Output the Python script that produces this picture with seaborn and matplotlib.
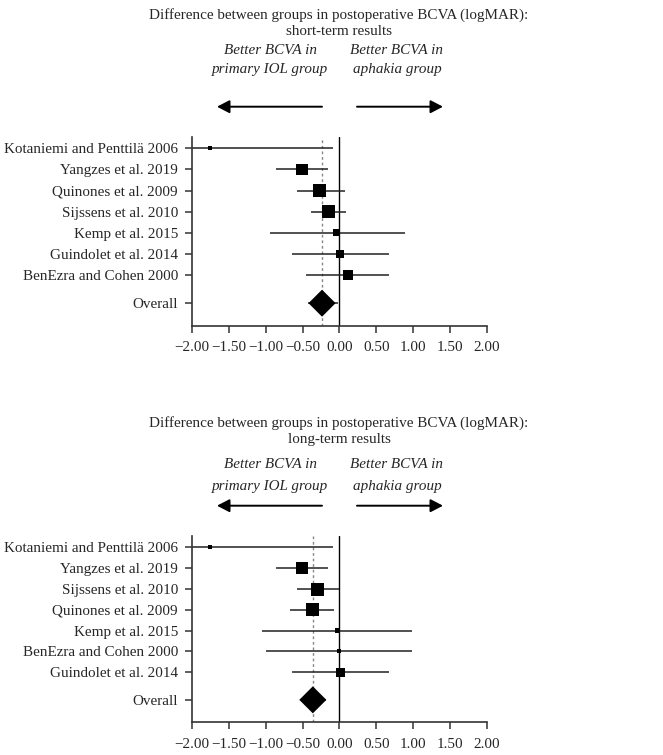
import matplotlib
matplotlib.use("Agg")
import matplotlib.pyplot as plt
import seaborn as sns
import pandas as pd
import numpy as np

# ---- data ----
short_studies = ["Kotaniemi and Penttilä 2006", "Yangzes et al. 2019", "Quinones et al. 2009",
                 "Sijssens et al. 2010", "Kemp et al. 2015", "Guindolet et al. 2014",
                 "BenEzra and Cohen 2000"]
short_est = [-1.76, -0.51, -0.27, -0.145, -0.036, 0.01, 0.118]
short_lo = [-2.00, -0.855, -0.58, -0.38, -0.946, -0.64, -0.45]
short_hi = [-0.09, -0.16, 0.07, 0.086, 0.887, 0.67, 0.674]
short_weight = [4, 11, 12, 13, 6, 7.5, 9]
short_overall = -0.235
short_overall_lo = -0.43
short_overall_hi = -0.02

long_studies = ["Kotaniemi and Penttilä 2006", "Yangzes et al. 2019", "Sijssens et al. 2010",
                "Quinones et al. 2009", "Kemp et al. 2015", "BenEzra and Cohen 2000",
                "Guindolet et al. 2014"]
long_est = [-1.76, -0.51, -0.294, -0.37, -0.02, 0.0, 0.01]
long_lo = [-2.00, -0.855, -0.58, -0.67, -1.045, -0.99, -0.64]
long_hi = [-0.09, -0.16, -0.01, -0.07, 0.99, 0.99, 0.67]
long_weight = [4, 11, 13, 13, 4.5, 4, 8]
long_overall = -0.36
long_overall_lo = -0.51
long_overall_hi = -0.18

x_ticks = [-2.0, -1.5, -1.0, -0.5, 0.0, 0.5, 1.0, 1.5, 2.0]

sns.set_theme(style="white")
plt.rcParams['font.family'] = ['Liberation Serif', 'DejaVu Serif']

W, H = 663, 755
fig = plt.figure(figsize=(W / 100, H / 100), dpi=100)

FS = 10.9
OVERALL_POS = 7.33
PX2PT = 0.72


def fx(px):
    return px / W


def fy(py):
    return 1 - py / H


def panel(top_px, bottom_px, studies, est, lo, hi, weight, ov, ov_lo, ov_hi, subtitle, tys):
    left_px, right_px = 192, 486.7
    ax = fig.add_axes([left_px / W, 1 - bottom_px / H, (right_px - left_px) / W,
                       (bottom_px - top_px) / H])
    ypos = list(range(len(studies)))
    df = pd.DataFrame({"study": studies, "est": est, "lo": lo, "hi": hi,
                       "w": weight, "y": ypos})
    # CI lines
    ax.hlines(df["y"], df["lo"], df["hi"], color="#222222", lw=1.1, zorder=2)
    ax.hlines([OVERALL_POS], [ov_lo], [ov_hi], color="#222222", lw=1.1, zorder=2)
    # study squares (size in px -> pt^2)
    wmin, wmax = min(weight), max(weight)
    sns.scatterplot(data=df, x="est", y="y", size="w",
                    sizes=((wmin * PX2PT) ** 2, (wmax * PX2PT) ** 2),
                    size_norm=(wmin, wmax), marker="s", color="black",
                    edgecolor="none", legend=False, ax=ax, zorder=3)
    # overall diamond
    ov_df = pd.DataFrame({"x": [ov], "y": [OVERALL_POS]})
    sns.scatterplot(data=ov_df, x="x", y="y", marker="D", s=190, color="black",
                    edgecolor="none", legend=False, ax=ax, zorder=4)
    # reference lines
    ax.axvline(0, color="black", lw=1.0, zorder=1)
    ax.axvline(ov, color="#888888", lw=1.0, ls=(0, (2, 2)), zorder=1)

    ax.set_xlim(-2, 2)
    ax.set_ylim(OVERALL_POS + 1.08, -0.55)
    ax.set_yticks(ypos + [OVERALL_POS])
    ax.set_yticklabels(studies + ["Overall"], fontsize=FS)
    ax.set_xticks(x_ticks)
    ax.set_xticklabels([f"{v:.2f}".replace("-", "\u2212") for v in x_ticks], fontsize=FS)
    ax.set_xlabel("")
    ax.set_ylabel("")
    for s in ["top", "right"]:
        ax.spines[s].set_visible(False)
    for s in ["left", "bottom"]:
        ax.spines[s].set_color("#333333")
        ax.spines[s].set_linewidth(1.2)
    ax.tick_params(axis="both", which="both", direction="out", length=5, width=1.1,
                   color="#333333", left=True, bottom=True)
    ax.tick_params(axis="y", pad=5)
    ax.tick_params(axis="x", pad=6)

    fig.text(fx(339), fy(tys[0]), "Difference between groups in postoperative BCVA (logMAR):",
             ha="center", va="center", fontsize=FS)
    fig.text(fx(339), fy(tys[1]), subtitle, ha="center", va="center", fontsize=FS)
    fig.text(fx(270), fy(tys[2]), "Better BCVA in", ha="center", va="center",
             fontsize=FS, style="italic")
    fig.text(fx(270), fy(tys[3]), "primary IOL group", ha="center", va="center",
             fontsize=FS, style="italic")
    fig.text(fx(397), fy(tys[2]), "Better BCVA in", ha="center", va="center",
             fontsize=FS, style="italic")
    fig.text(fx(397), fy(tys[3]), "aphakia group", ha="center", va="center",
             fontsize=FS, style="italic")
    ay = fy(tys[4])
    for x0, x1 in [(322, 217), (357, 443)]:
        fig.add_artist(matplotlib.patches.FancyArrowPatch(
            (fx(x0), ay), (fx(x1), ay), transform=fig.transFigure,
            arrowstyle="-|>,head_length=5,head_width=2.6",
            color="black", lw=1.4, mutation_scale=1.5, shrinkA=0, shrinkB=0))
    return ax


panel(136.7, 326, short_studies, short_est, short_lo, short_hi, short_weight,
      short_overall, short_overall_lo, short_overall_hi, "short-term results",
      [15, 31.7, 50, 70, 106.7])
panel(536, 722.3, long_studies, long_est, long_lo, long_hi, long_weight,
      long_overall, long_overall_lo, long_overall_hi, "long-term results",
      [423, 439.5, 464, 486.7, 505.7])

fig.savefig("out.png", dpi=100)
